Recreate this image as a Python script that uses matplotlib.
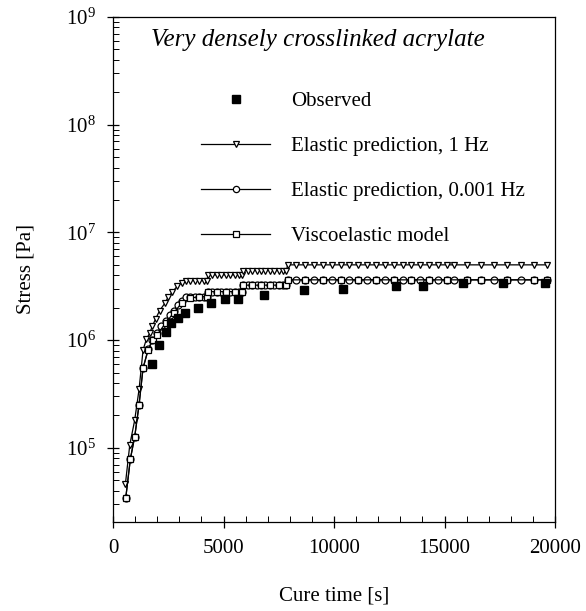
import numpy as np
import matplotlib
matplotlib.use('Agg')
import matplotlib.pyplot as plt
from matplotlib.ticker import LogLocator, MultipleLocator, NullFormatter

plt.rcParams['font.family'] = ['Liberation Serif', 'DejaVu Serif']
plt.rcParams['mathtext.fontset'] = 'custom'
plt.rcParams['mathtext.rm'] = 'Liberation Serif'
plt.rcParams['mathtext.it'] = 'Liberation Serif:italic'

# observed stress (filled squares)
obs_t = [1780, 2080, 2410, 2640, 2940, 3240, 3840, 4450, 5050, 5650,
         6850, 8630, 10400, 12820, 14030, 15840, 17650, 19530]
obs_s = [6.0e5, 9.0e5, 1.2e6, 1.45e6, 1.6e6, 1.8e6, 2.0e6, 2.2e6, 2.4e6, 2.4e6,
         2.6e6, 2.95e6, 3.0e6, 3.15e6, 3.15e6, 3.4e6, 3.4e6, 3.4e6]

# elastic prediction, 1 Hz (triangles)
hz1_t = [560, 760, 980, 1180, 1360, 1510, 1660, 1780, 1930, 2110, 2340, 2490, 2690, 2900, 3100,
         3300, 3500, 3700, 3900, 4100, 4250,
         4300, 4500, 4700, 4900, 5100, 5300, 5500, 5700, 5850,
         5900, 6100, 6300, 6500, 6700, 6900, 7100, 7300, 7500, 7700, 7850,
         7900, 8300, 8700, 9100, 9500, 9900, 10300, 10700, 11100, 11500, 11900, 12300,
         12700, 13100, 13500, 13900, 14300, 14700, 15100, 15450, 16000, 16650, 17250,
         17850, 18450, 19050, 19650]
hz1_s = [4.6e4, 1.07e5, 1.8e5, 3.5e5, 8.1e5, 1.02e6, 1.16e6, 1.35e6, 1.58e6, 1.88e6, 2.19e6, 2.5e6, 2.8e6, 3.16e6, 3.4e6,
         3.57e6, 3.57e6, 3.57e6, 3.57e6, 3.57e6, 3.57e6,
         4.04e6, 4.04e6, 4.04e6, 4.04e6, 4.04e6, 4.04e6, 4.04e6, 4.04e6, 4.04e6,
         4.43e6, 4.43e6, 4.43e6, 4.43e6, 4.43e6, 4.43e6, 4.43e6, 4.43e6, 4.43e6, 4.43e6, 4.43e6,
         5.0e6, 5.0e6, 5.0e6, 5.0e6, 5.0e6, 5.0e6, 5.0e6, 5.0e6, 5.0e6, 5.0e6, 5.0e6, 5.0e6,
         5.0e6, 5.0e6, 5.0e6, 5.0e6, 5.0e6, 5.0e6, 5.0e6, 5.0e6, 5.0e6, 5.0e6, 5.0e6,
         5.0e6, 5.0e6, 5.0e6, 5.0e6]

# elastic prediction, 0.001 Hz (circles)
mhz_t = [575, 786, 982, 1178, 1360, 1590, 1780, 1990, 2190, 2390, 2570, 2750, 2940, 3100,
         3290, 3500, 3700, 3900, 4100, 4250,
         4300, 4500, 4700, 4900, 5100, 5300, 5500, 5700, 5850,
         5900, 6100, 6300, 6500, 6700, 6900, 7100, 7300, 7500, 7700, 7850,
         7900, 8300, 8700, 9100, 9500, 9900, 10300, 10700, 11100, 11500, 11900, 12300,
         12700, 13100, 13500, 13900, 14300, 14700, 15100, 15450, 16000, 16650, 17250,
         17850, 18450, 19050, 19650]
mhz_s = [3.4e4, 7.9e4, 1.27e5, 2.5e5, 5.5e5, 8.2e5, 1.0e6, 1.17e6, 1.34e6, 1.51e6, 1.72e6, 1.88e6, 2.14e6, 2.29e6,
         2.54e6, 2.54e6, 2.54e6, 2.54e6, 2.54e6, 2.54e6,
         2.82e6, 2.82e6, 2.82e6, 2.82e6, 2.82e6, 2.82e6, 2.82e6, 2.82e6, 2.82e6,
         3.24e6, 3.24e6, 3.24e6, 3.24e6, 3.24e6, 3.24e6, 3.24e6, 3.24e6, 3.24e6, 3.24e6, 3.24e6,
         3.63e6, 3.63e6, 3.63e6, 3.63e6, 3.63e6, 3.63e6, 3.63e6, 3.63e6, 3.63e6, 3.63e6, 3.63e6, 3.63e6,
         3.63e6, 3.63e6, 3.63e6, 3.63e6, 3.63e6, 3.63e6, 3.63e6, 3.63e6, 3.63e6, 3.63e6, 3.63e6,
         3.63e6, 3.63e6, 3.63e6, 3.63e6]

# viscoelastic model (open squares)
ve_t = [575, 786, 982, 1178, 1360, 1590, 1800, 1990, 2390, 2750, 3100, 3500, 3900, 4250,
        4300, 4700, 5100, 5500, 5850, 5900, 6300, 6700, 7100, 7500, 7850,
        7900, 8700, 9500, 10300, 11100, 11900, 12700, 13500, 14300, 15100, 16000,
        16650, 17850, 19050, 19650]
ve_s = [3.4e4, 7.9e4, 1.27e5, 2.5e5, 5.5e5, 8.1e5, 1.0e6, 1.12e6, 1.45e6, 1.8e6, 2.2e6, 2.45e6, 2.54e6, 2.54e6,
        2.82e6, 2.82e6, 2.82e6, 2.82e6, 2.82e6, 3.24e6, 3.24e6, 3.24e6, 3.24e6, 3.24e6, 3.24e6,
        3.63e6, 3.63e6, 3.63e6, 3.63e6, 3.63e6, 3.63e6, 3.63e6, 3.63e6, 3.63e6, 3.63e6, 3.63e6,
        3.63e6, 3.63e6, 3.63e6, 3.63e6]

fig = plt.figure(figsize=(5.86, 6.11), dpi=100)
ax = fig.add_axes([113/586, 1-522/611, 442/586, 505/611])

ax.plot(hz1_t, hz1_s, '-', color='black', lw=0.9, marker='v', ms=5, mfc='white',
        mec='black', mew=0.9, label='Elastic prediction, 1 Hz')
ax.plot(mhz_t, mhz_s, '-', color='black', lw=0.9, marker='o', ms=5, mfc='white',
        mec='black', mew=0.9, label='Elastic prediction, 0.001 Hz')
ax.plot(ve_t, ve_s, '-', color='black', lw=0.9, marker='s', ms=5, mfc='white',
        mec='black', mew=0.9, label='Viscoelastic model')
ax.plot(obs_t, obs_s, 's', color='black', ms=6, label='Observed', zorder=5)

ax.set_yscale('log')
ax.set_xlim(0, 20000)
ax.set_ylim(2.05e4, 1e9)

ax.xaxis.set_major_locator(MultipleLocator(5000))
ax.xaxis.set_minor_locator(MultipleLocator(1000))
ax.yaxis.set_major_locator(LogLocator(base=10, numticks=20))
ax.yaxis.set_minor_locator(LogLocator(base=10, subs=np.arange(2, 10), numticks=20))
ax.yaxis.set_minor_formatter(NullFormatter())

ax.tick_params(which='major', direction='inout', length=9, width=0.9, labelsize=15,
               top=False, right=False, pad=8)
ax.tick_params(which='minor', direction='in', length=4, width=0.7, top=False, right=False)
for s in ax.spines.values():
    s.set_linewidth(0.9)

ax.set_xlabel('Cure time [s]', fontsize=15)
ax.xaxis.set_label_coords(0.5, -0.128)
ax.set_ylabel('Stress [Pa]', fontsize=15, labelpad=22)

ax.text(0.464, 0.954, 'Very densely crosslinked acrylate', transform=ax.transAxes,
        fontsize=18, style='italic', ha='center', va='center')

h, l = ax.get_legend_handles_labels()
order = [3, 0, 1, 2]
ax.legend([h[i] for i in order], [l[i] for i in order], loc='upper left',
          bbox_to_anchor=(0.2, 0.853), frameon=False, fontsize=15,
          handlelength=3.3, handletextpad=1.0, labelspacing=1.22,
          borderpad=0, borderaxespad=0, markerscale=0.9)

fig.savefig('out.png', dpi=100)
